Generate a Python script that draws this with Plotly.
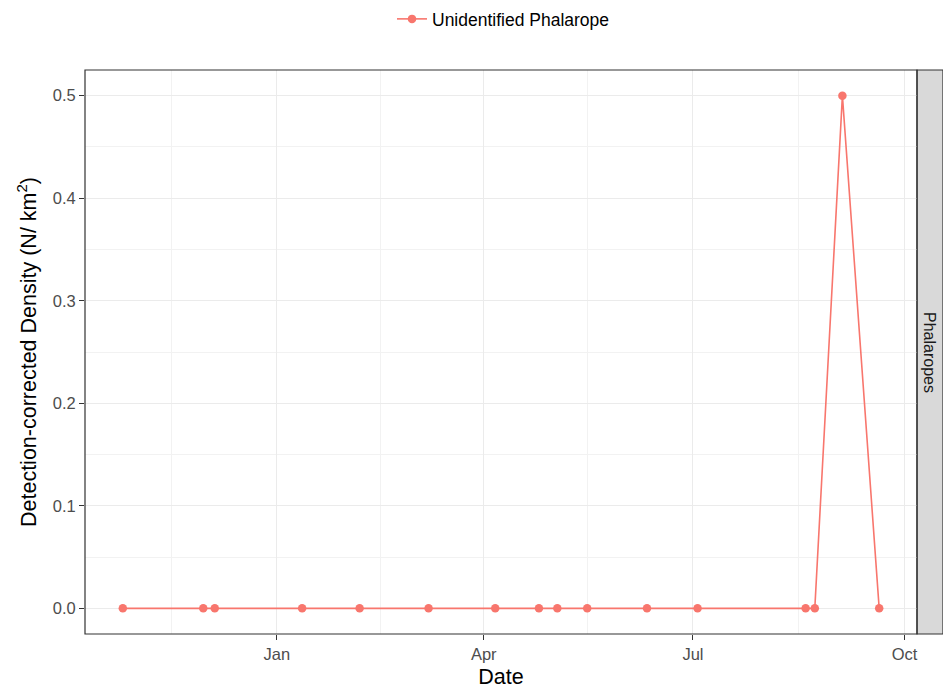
import plotly.graph_objects as go
import pandas as pd

# ---- data ----
dates = ["2014-10-26", "2014-11-30", "2014-12-05", "2015-01-12", "2015-02-06",
         "2015-03-08", "2015-04-06", "2015-04-25", "2015-05-03", "2015-05-16",
         "2015-06-11", "2015-07-03", "2015-08-19", "2015-08-23", "2015-09-04",
         "2015-09-20"]
density = [0, 0, 0, 0, 0, 0, 0, 0, 0, 0, 0, 0, 0, 0, 0.5, 0]
series_name = "Unidentified Phalarope"
facet_label = "Phalaropes"
major_ticks = ["2015-01-01", "2015-04-01", "2015-07-01", "2015-10-01"]
major_labels = ["Jan", "Apr", "Jul", "Oct"]
minor_ticks = ["2014-11-16", "2015-02-15", "2015-05-16", "2015-08-16"]
y_ticks = [0.0, 0.1, 0.2, 0.3, 0.4, 0.5]
y_minor = [0.05, 0.15, 0.25, 0.35, 0.45]

d = pd.to_datetime(dates)
span = d.max() - d.min()
x_range = [d.min() - span * 0.05, d.max() + span * 0.05]
ymin, ymax = min(density), max(density)
y_range = [ymin - (ymax - ymin) * 0.05, ymax + (ymax - ymin) * 0.05]

RED = "#F8766D"
FONT = "Liberation Sans, Arial, sans-serif"

fig = go.Figure()
fig.add_trace(go.Scatter(
    x=d, y=density, mode="lines+markers", name=series_name,
    line=dict(color=RED, width=1.6),
    marker=dict(color=RED, size=8.5),
))

fig.update_layout(
    width=943, height=689,
    paper_bgcolor="white", plot_bgcolor="white",
    margin=dict(l=85, r=26, t=70, b=55, autoexpand=False),
    font=dict(family=FONT, color="#000000"),
    showlegend=True,
    legend=dict(orientation="h", x=392 / 943, xanchor="left", xref="container",
                y=1 - 19 / 689, yref="container", yanchor="middle",
                font=dict(size=17.5, color="#000000"), bgcolor="rgba(0,0,0,0)",
                itemwidth=30),
)

fig.update_xaxes(
    type="date", range=x_range, automargin=False,
    tickmode="array", tickvals=pd.to_datetime(major_ticks), ticktext=major_labels,
    ticks="outside", ticklen=5, tickcolor="#333333", tickwidth=1.1,
    tickfont=dict(size=16.5, color="#4D4D4D", family=FONT),
    showgrid=True, gridcolor="#EBEBEB", gridwidth=1.1,
    minor=dict(tickmode="array", tickvals=pd.to_datetime(minor_ticks),
               showgrid=True, gridcolor="#F2F2F2", gridwidth=0.7, ticks=""),
    zeroline=False, showline=False,
    title=dict(text="Date", font=dict(size=21.5, color="#000000", family=FONT), standoff=7),
)
fig.update_yaxes(
    range=y_range, automargin=False,
    tickmode="array", tickvals=y_ticks, ticktext=[f"{v:.1f}" for v in y_ticks],
    ticks="outside", ticklen=5, tickcolor="#333333", tickwidth=1.1,
    tickfont=dict(size=16.5, color="#4D4D4D", family=FONT),
    showgrid=True, gridcolor="#EBEBEB", gridwidth=1.1,
    minor=dict(tickmode="array", tickvals=y_minor,
               showgrid=True, gridcolor="#F2F2F2", gridwidth=0.7, ticks=""),
    zeroline=False, showline=False,
    title=dict(text="Detection-corrected Density (N/ km<sup>2</sup>)",
               font=dict(size=21.5, color="#000000", family=FONT), standoff=10),
)

# panel border
fig.add_shape(type="rect", xref="paper", yref="paper", x0=0, x1=1, y0=0, y1=1,
              line=dict(color="#333333", width=1.2), fillcolor="rgba(0,0,0,0)", layer="above")
# facet strip
strip_w = 26 / 832
fig.add_shape(type="rect", xref="paper", yref="paper", x0=1, x1=1 + strip_w, y0=0, y1=1,
              line=dict(color="#333333", width=1.2), fillcolor="#D9D9D9", layer="below")
fig.add_annotation(xref="paper", yref="paper", x=1 + strip_w / 2, y=0.5,
                   text=facet_label, textangle=90, showarrow=False,
                   font=dict(size=16, color="#1A1A1A", family=FONT),
                   xanchor="center", yanchor="middle")

fig.write_html("out.html", config={"displayModeBar": False},
               post_script="document.body.style.margin='0';document.body.style.overflow='hidden';")
